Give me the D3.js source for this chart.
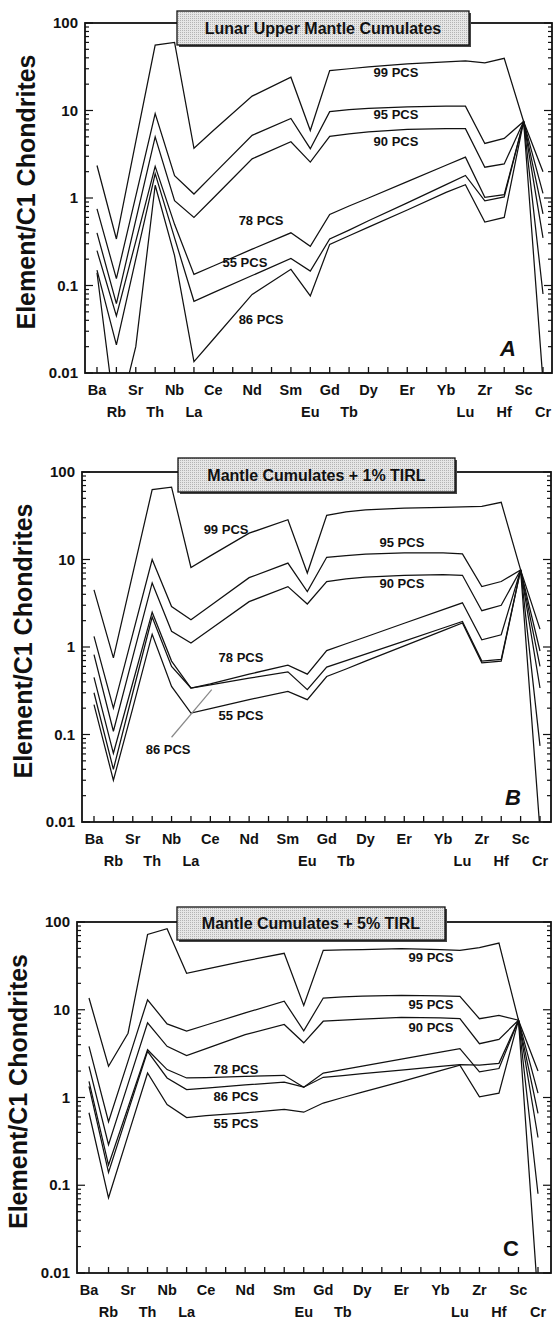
<!DOCTYPE html>
<html><head><meta charset="utf-8">
<script src="https://cdn.jsdelivr.net/npm/d3@7"></script>
<style>
body{margin:0;background:#fff;}
svg text{font-family:"Liberation Sans", Arial, Helvetica, sans-serif;font-weight:bold;fill:#111;}
</style></head><body>
<svg id="c" width="554" height="1318"></svg>
<script>
// ---------- DATA ----------
const slots = ["Ba","Rb","Sr","Th","Nb","La","Ce","Pr","Nd","Pm","Sm","Eu","Gd","Tb","Dy","Ho","Er","Tm","Yb","Lu","Zr","Hf","Sc","Cr"];
const elements = ["Ba","Rb","Sr","Th","Nb","La","Ce","Nd","Sm","Eu","Gd","Tb","Dy","Er","Yb","Lu","Zr","Hf","Sc","Cr"];
const upperRow = ["Ba","Sr","Nb","Ce","Nd","Sm","Gd","Dy","Er","Yb","Zr","Sc"];
const lowerRow = ["Rb","Th","La","Eu","Tb","Lu","Hf","Cr"];
const yTicks = [100,10,1,0.1,0.01];
const yTickLabels = ["100","10","1","0.1","0.01"];
const seriesNames = ["99 PCS","95 PCS","90 PCS","78 PCS","55 PCS","86 PCS"];
const panelTitles = ["Lunar Upper Mantle Cumulates","Mantle Cumulates + 1% TIRL","Mantle Cumulates + 5% TIRL"];
const panelLetters = ["A","B","C"];
const yAxisTitle = "Element/C1 Chondrites";

// Panel A
const a99 = [2.35,0.34,4.4,56,60,3.7,5.9,14.6,24,5.9,28.6,30,31.5,34,36,37,35,39.5,7.5,2.0];
const a95 = [0.75,0.12,1.05,9.2,1.8,1.11,1.86,5.2,8.1,3.66,9.7,10.2,10.6,11.0,11.2,11.2,4.2,4.8,7.5,1.13];
const a90 = [0.40,0.062,0.56,5.0,0.93,0.60,1.0,2.8,4.4,2.57,5.07,5.4,5.7,6.1,6.2,6.2,2.25,2.45,7.5,0.66];
const a78 = [0.25,0.045,0.32,2.3,0.5,0.134,0.167,0.26,0.40,0.28,0.65,0.81,1.0,1.54,2.37,2.93,1.02,1.09,7.5,0.35];
const a55 = [0.15,0.021,0.2,1.9,0.35,0.066,0.083,0.13,0.204,0.146,0.34,0.43,0.55,0.88,1.42,1.81,0.93,1.03,7.5,0.08];
const a86 = [0.14,0.0025,0.02,1.4,0.22,0.0135,0.0243,0.079,0.153,0.076,0.295,0.37,0.465,0.73,1.16,1.42,0.53,0.60,7.5,0.008];
// Panel B
const b99 = [4.5,0.75,6.9,63,67,8.1,11,20,28.5,7.0,32,35,37,38.7,39.5,40,40.5,45,7.6,1.6];
const b95 = [1.32,0.2,1.41,10,2.9,2.05,2.97,6.2,9.1,4.3,10.6,11.1,11.5,11.9,11.9,11.6,4.9,5.6,7.6,0.9];
const b90 = [0.82,0.109,0.77,5.4,1.51,1.11,1.6,3.3,4.9,3.1,5.6,6.0,6.3,6.6,6.7,6.6,2.6,3.0,7.6,0.6];
const b78 = [0.45,0.061,0.39,2.5,0.69,0.34,0.38,0.49,0.62,0.49,0.91,1.09,1.3,1.87,2.67,3.2,1.21,1.38,7.6,0.34];
const b55 = [0.22,0.03,0.2,1.4,0.355,0.176,0.197,0.25,0.31,0.25,0.46,0.56,0.69,1.03,1.54,1.88,0.66,0.69,7.6,0.008];
const b86 = [0.3,0.04,0.3,2.2,0.6,0.34,0.37,0.44,0.52,0.325,0.59,0.7,0.83,1.17,1.65,1.96,0.69,0.72,7.6,0.074];
// Panel C
const c99 = [13.6,2.27,5.4,72,84,26,29,36,44,11.2,47.5,48,48.5,49.6,48.5,47.5,51,57.6,7.6,2.0];
const c95 = [3.83,0.53,2.6,13,6.9,5.7,6.7,9.2,12.5,5.75,13.6,14,14.3,14.6,14.4,14.2,7.9,8.6,7.6,1.12];
const c90 = [2.26,0.29,1.43,7.1,3.83,3.0,3.6,5.2,6.8,4.2,7.4,7.6,7.8,8.2,8.1,7.9,4.1,4.6,7.6,0.66];
const c78 = [1.53,0.17,0.77,3.5,2.08,1.67,1.69,1.74,1.79,1.31,1.9,2.08,2.28,2.74,3.28,3.6,1.96,2.14,7.6,0.35];
const c55 = [0.67,0.072,0.37,1.9,0.83,0.59,0.62,0.67,0.73,0.68,0.865,1.0,1.15,1.52,2.02,2.33,1.02,1.12,7.6,0.005];
const c86 = [1.34,0.14,0.69,3.36,1.67,1.23,1.28,1.39,1.5,1.31,1.7,1.78,1.87,2.05,2.26,2.37,2.34,2.45,7.6,0.08];

// label anchors in data space: [slot position, value]
const labelsA = [[15.42,27.5],[15.42,9.1],[15.42,4.48],[8.46,0.546],[7.63,0.181],[8.46,0.0404]];
const labelsB = [[6.81,22.3],[15.88,15.5],[15.88,5.25],[7.58,0.75],[7.58,0.163],[3.82,0.068]];
const labelsC = [[17.52,38.9],[17.52,11.6],[17.52,6.2],[7.53,2.06],[7.53,0.51],[7.53,1.04]];
const leaderB = [[4.0,0.093],[6.07,0.325]];

// ---------- LAYOUT ----------
const panels = [
  {series:[a99,a95,a90,a78,a55,a86], labels:labelsA, left:85, right:552, top:23, bottom:373, x0:97, x1:543, box:[177,469,11,45], italic:true, lx:44},
  {series:[b99,b95,b90,b78,b55,b86], labels:labelsB, left:82, right:551, top:472, bottom:822, x0:94, x1:540, box:[178,455,458,492], italic:true, lx:38, leader:leaderB},
  {series:[c99,c95,c90,c78,c55,c86], labels:labelsC, left:77, right:551, top:922, bottom:1273, x0:89, x1:538, box:[177,445,907,940], italic:false, lx:40}
];

const svg = d3.select("#c");
const defs = svg.append("defs");
const pat = defs.append("pattern").attr("id","stip").attr("width",2).attr("height",2).attr("patternUnits","userSpaceOnUse");
pat.append("rect").attr("width",2).attr("height",2).attr("fill","#e6e6e6");
pat.append("rect").attr("width",1).attr("height",1).attr("fill","#b4b4b4");

panels.forEach((p, pi) => {
  const g = svg.append("g");
  const x = d3.scalePoint().domain(slots).range([p.x0, p.x1]);
  const y = d3.scaleLog().domain([0.01, 100]).range([p.bottom, p.top]);
  const xs = s => p.x0 + s * x.step();

  const cid = "clip" + pi;
  defs.append("clipPath").attr("id", cid).append("rect")
    .attr("x", p.left).attr("y", p.top).attr("width", p.right - p.left).attr("height", p.bottom - p.top);

  // series lines
  const line = d3.line().x((d, i) => x(elements[i])).y(d => y(d));
  g.append("g").attr("clip-path", `url(#${cid})`)
    .selectAll("path").data(p.series).join("path")
    .attr("d", line).attr("fill", "none").attr("stroke", "#111").attr("stroke-width", 1.25)
    .attr("stroke-linejoin", "miter");

  // frame
  g.append("rect").attr("x", p.left).attr("y", p.top).attr("width", p.right - p.left).attr("height", p.bottom - p.top)
    .attr("fill", "none").attr("stroke", "#111").attr("stroke-width", 1.8);

  // x ticks (inward)
  g.selectAll("line.xt").data(slots).join("line").attr("class","xt")
    .attr("x1", d => x(d)).attr("x2", d => x(d)).attr("y1", p.bottom).attr("y2", p.bottom - 6)
    .attr("stroke", "#111").attr("stroke-width", 1.3);

  // y ticks both sides
  const yt = y.ticks();
  const isMajor = t => Math.abs(Math.log10(t) - Math.round(Math.log10(t))) < 1e-6;
  g.selectAll("line.yl").data(yt).join("line").attr("class","yl")
    .attr("x1", p.left).attr("x2", t => p.left + (isMajor(t) ? 8 : 4))
    .attr("y1", t => y(t)).attr("y2", t => y(t)).attr("stroke", "#111").attr("stroke-width", 1.2);
  g.selectAll("line.yr").data(yt).join("line").attr("class","yr")
    .attr("x1", p.right).attr("x2", t => p.right - (isMajor(t) ? 8 : 4))
    .attr("y1", t => y(t)).attr("y2", t => y(t)).attr("stroke", "#111").attr("stroke-width", 1.2);

  // y tick labels
  g.selectAll("text.ytl").data(yTicks).join("text").attr("class","ytl")
    .attr("x", p.left - 7).attr("y", t => y(t) + 5).attr("text-anchor", "end")
    .attr("font-size", 15).text((t, i) => yTickLabels[i]);

  // x labels two rows
  g.selectAll("text.xu").data(upperRow).join("text").attr("class","xu")
    .attr("x", d => x(d)).attr("y", p.bottom + 22).attr("text-anchor", "middle")
    .attr("font-size", 14.5).text(d => d);
  g.selectAll("text.xl").data(lowerRow).join("text").attr("class","xl")
    .attr("x", d => x(d)).attr("y", p.bottom + 43.5).attr("text-anchor", "middle")
    .attr("font-size", 14.5).text(d => d);

  // y axis title
  const cy = (p.top + p.bottom) / 2 - 6;
  g.append("text").attr("transform", `translate(${p.left - 50},${cy}) rotate(-90)`)
    .attr("text-anchor", "middle").attr("font-size", 25).text(yAxisTitle);

  // series labels
  g.selectAll("text.sl").data(p.labels).join("text").attr("class","sl")
    .attr("x", d => xs(d[0])).attr("y", d => y(d[1]) + 4.5).attr("text-anchor", "middle")
    .attr("font-size", 13).text((d, i) => seriesNames[i]);

  if (p.leader) {
    g.append("line").attr("x1", xs(p.leader[0][0])).attr("y1", y(p.leader[0][1]))
      .attr("x2", xs(p.leader[1][0])).attr("y2", y(p.leader[1][1]))
      .attr("stroke", "#888").attr("stroke-width", 1.2);
  }

  // panel letter
  g.append("text").attr("x", p.right - p.lx).attr("y", p.bottom - 17).attr("text-anchor", "middle")
    .attr("font-size", 22).attr("font-style", p.italic ? "italic" : "normal").text(panelLetters[pi]);

  // title box
  const [bx0, bx1, by0, by1] = p.box;
  g.append("rect").attr("x", bx0 + 2).attr("y", by0 + 2).attr("width", bx1 - bx0).attr("height", by1 - by0).attr("fill", "#444");
  g.append("rect").attr("x", bx0).attr("y", by0).attr("width", bx1 - bx0).attr("height", by1 - by0)
    .attr("fill", "url(#stip)").attr("stroke", "#111").attr("stroke-width", 1.3);
  g.append("text").attr("x", (bx0 + bx1) / 2).attr("y", (by0 + by1) / 2 + 5.5).attr("text-anchor", "middle")
    .attr("font-size", 16).text(panelTitles[pi]);
});
</script>
</body></html>
